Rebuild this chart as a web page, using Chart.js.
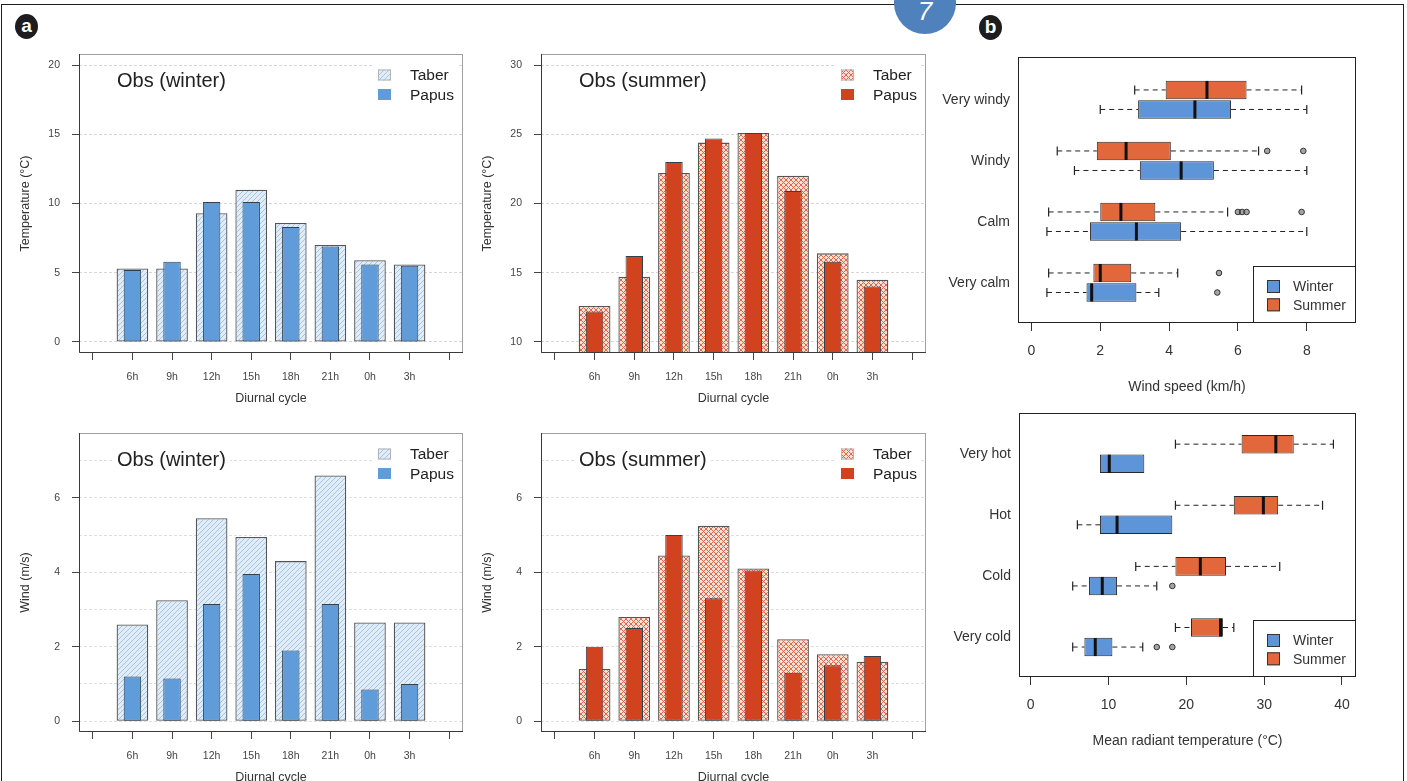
<!DOCTYPE html>
<html lang="en">
<head>
<meta charset="utf-8">
<title>Diurnal cycle and thermal comfort classes</title>
<script src="https://cdn.jsdelivr.net/npm/chart.js@4.4.1/dist/chart.umd.min.js"></script>
<style>
  html, body { margin: 0; padding: 0; background: #fff; }
  body { position: relative; width: 1407px; height: 781px; overflow: hidden;
         font-family: "Liberation Sans", Arial, sans-serif; }
  .frame { position: absolute; left: 1px; top: 4px; width: 1401px; height: 800px;
           border: 1.5px solid #1e1e1e; border-bottom: none; }
  .tab { position: absolute; left: 894px; top: -28px; width: 62px; height: 62px;
         border-radius: 50%; background: #4f81bd; }
  .tab span { position: absolute; left: 0; width: 100%; top: 26px; line-height: 26px;
              text-align: center; color: #fff; font-style: italic; font-size: 26px; }
  .badge { position: absolute; width: 23px; height: 25px; border-radius: 50%;
           background: #1d1d1f; color: #fff; text-align: center;
           font: bold 19px/24px "Liberation Sans Narrow", "Liberation Sans", Arial, sans-serif; }
  .pane { position: absolute; }
  .pane canvas { display: block; }
</style>
</head>
<body>
<div class="frame"></div>
<div class="tab"><span>7</span></div>
<div class="badge" style="left:15px;top:14px;">a</div>
<div class="badge" style="left:979px;top:15px;">b</div>

<script>
// ---- diurnal cycle (a) ----
const hours = ['6h', '9h', '12h', '15h', '18h', '21h', '0h', '3h'];
const hourTicks = [0, 1, 2, 3, 4, 5, 6, 7, 8, 9];

const tempWinterTaber = [5.3, 5.3, 9.3, 11.0, 8.6, 7.0, 5.9, 5.6];
const tempWinterPapus = [5.2, 5.8, 10.1, 10.1, 8.3, 6.9, 5.6, 5.5];
const tempSummerTaber = [12.6, 14.7, 22.2, 24.4, 25.1, 22.0, 16.4, 14.5];
const tempSummerPapus = [12.2, 16.2, 23.0, 24.7, 25.1, 20.9, 15.8, 14.0];
const windWinterTaber = [2.6, 3.25, 5.45, 4.95, 4.3, 6.6, 2.65, 2.65];
const windWinterPapus = [1.2, 1.15, 3.15, 3.95, 1.9, 3.15, 0.85, 1.0];
const windSummerTaber = [1.4, 2.8, 4.45, 5.25, 4.1, 2.2, 1.8, 1.6];
const windSummerPapus = [2.0, 2.5, 5.0, 3.3, 4.05, 1.3, 1.5, 1.75];

const tempWinterTicks = [0, 5, 10, 15, 20];
const tempSummerTicks = [10, 15, 20, 25, 30];
const windTicks = [0, 1, 2, 3, 4, 5, 6, 7];

// ---- comfort classes (b): [lower whisker, Q1, median, Q3, upper whisker] ----
const windClasses = ['Very windy', 'Windy', 'Calm', 'Very calm'];
const windSpeedSummer = [[3.0, 3.9, 5.1, 6.25, 7.85], [0.75, 1.9, 2.75, 4.05, 6.6],
                         [0.5, 2.0, 2.6, 3.6, 5.7], [0.5, 1.8, 2.0, 2.9, 4.25]];
const windSpeedWinter = [[2.0, 3.1, 4.75, 5.8, 8.0], [1.25, 3.15, 4.35, 5.3, 8.0],
                         [0.45, 1.7, 3.05, 4.35, 8.0], [0.45, 1.6, 1.75, 3.05, 3.7]];
const windSpeedSummerOut = [[], [6.85, 7.9], [6.0, 6.12, 6.25, 7.85], [5.45]];
const windSpeedWinterOut = [[], [], [], [5.4]];
const windSpeedTicks = [0, 2, 4, 6, 8];

const mrtClasses = ['Very hot', 'Hot', 'Cold', 'Very cold'];
const mrtSummer = [[18.6, 27.1, 31.5, 33.8, 38.9], [18.6, 26.1, 29.9, 31.8, 37.5],
                   [13.5, 18.6, 21.8, 25.1, 32.0], [18.6, 20.6, 24.4, 24.7, 26.1]];
const mrtWinter = [[8.9, 8.9, 10.1, 14.6, 14.6], [6.0, 8.9, 11.1, 18.2, 18.2],
                   [5.4, 7.5, 9.2, 11.1, 16.2], [5.4, 6.9, 8.3, 10.5, 14.4]];
const mrtSummerOut = [[], [], [], []];
const mrtWinterOut = [[], [], [18.2], [16.2, 18.2]];
const mrtTicks = [0, 10, 20, 30, 40];
const classTicks = [0, 1, 2, 3];

// ---- styling ----
const FONT = '"Liberation Sans", Arial, sans-serif';
Chart.defaults.font.family = FONT;
Chart.defaults.color = '#333';

const papusBlue = '#5f9cd9';
const papusRed = '#d1421f';
const boxBlue = '#5d95d8';
const boxOrange = '#e2673a';

function hatch(bg, fg, cross) {
  const c = document.createElement('canvas');
  c.width = c.height = 5;
  const g = c.getContext('2d');
  g.fillStyle = bg; g.fillRect(0, 0, 5, 5);
  g.strokeStyle = fg; g.lineWidth = 1;
  g.beginPath();
  g.moveTo(-1, 6); g.lineTo(6, -1);
  g.moveTo(-1, 1); g.lineTo(1, -1);
  g.moveTo(4, 6); g.lineTo(6, 4);
  if (cross) {
    g.moveTo(-1, -1); g.lineTo(6, 6);
    g.moveTo(-1, 4); g.lineTo(1, 6);
    g.moveTo(4, -1); g.lineTo(6, 1);
  }
  g.stroke();
  return g.createPattern(c, 'repeat');
}
const winterHatch = hatch('#e0ecf8', '#a6c5e4', false);
const summerHatch = hatch('#fbe1d6', '#e0684a', true);

function makeCanvas(left, top, width, height) {
  const d = document.createElement('div');
  d.className = 'pane';
  d.style.left = left + 'px';
  d.style.top = top + 'px';
  const c = document.createElement('canvas');
  c.width = width; c.height = height;
  c.style.width = width + 'px'; c.style.height = height + 'px';
  d.appendChild(c);
  document.body.appendChild(d);
  return c;
}

// Box, heading and legend for the diurnal bar panels
const barDecor = {
  id: 'barDecor',
  afterDatasetsDraw(chart, args, o) {
    const { ctx, chartArea: a } = chart;
    ctx.save();
    ctx.lineWidth = 1;
    ctx.strokeStyle = '#a0a0a0';
    ctx.strokeRect(a.left + 0.5, a.top + 0.5, a.width - 1, a.height - 1);
    ctx.strokeStyle = '#3a3a3a';
    ctx.beginPath();
    ctx.moveTo(a.left + 0.5, a.top);
    ctx.lineTo(a.left + 0.5, a.bottom - 0.5);
    ctx.lineTo(a.right, a.bottom - 0.5);
    ctx.stroke();

    ctx.font = '20px ' + FONT;
    ctx.textBaseline = 'middle';
    const tw = ctx.measureText(o.heading).width;
    ctx.fillStyle = '#fff';
    ctx.fillRect(a.left + 34, a.top + 15, tw + 8, 24);
    ctx.fillStyle = '#222';
    ctx.fillText(o.heading, a.left + 38, a.top + 27);

    ctx.fillStyle = '#fff';
    ctx.fillRect(a.right - 90, a.top + 9, 84, 42);
    ctx.font = '15.5px ' + FONT;
    const rows = [chart.data.datasets[1], chart.data.datasets[0]];
    rows.forEach((ds, k) => {
      const cy = a.top + 21 + k * 19.5;
      ctx.fillStyle = ds.backgroundColor;
      ctx.fillRect(a.right - 85, cy - 5.5, 13, 11);
      ctx.strokeStyle = k === 0 ? '#b4b4b4' : ds.backgroundColor;
      ctx.strokeRect(a.right - 84.5, cy - 5, 12, 10);
      ctx.fillStyle = '#222';
      ctx.fillText(ds.label, a.right - 53, cy + 1);
    });
    ctx.restore();
  }
};

function barPanel(box, cfg) {
  const YW = 70, PT = 24, PR = 14, XH = 70;
  const canvas = makeCanvas(box.l - YW, box.t - PT, box.r - box.l + YW + PR, box.b - box.t + PT + XH);
  const evenOnly = cfg.evenLabels;
  return new Chart(canvas, {
    type: 'bar',
    data: {
      datasets: [
        { label: 'Papus', data: cfg.papus.map((v, i) => ({ x: i + 1, y: v })),
          backgroundColor: cfg.solid, borderColor: '#34404e', borderWidth: 1,
          borderSkipped: false, grouped: false, categoryPercentage: 1, barPercentage: 0.44, order: 1 },
        { label: 'Taber', data: cfg.taber.map((v, i) => ({ x: i + 1, y: v })),
          backgroundColor: cfg.pattern, borderColor: '#555', borderWidth: 1.3,
          borderSkipped: false, grouped: false, categoryPercentage: 1, barPercentage: 0.8, order: 2 }
      ]
    },
    options: {
      responsive: false, animation: false, devicePixelRatio: 1, events: [],
      layout: { padding: { top: PT, right: PR, left: 0, bottom: 0 } },
      plugins: { legend: { display: false }, tooltip: { enabled: false },
                 barDecor: { heading: cfg.heading } },
      scales: {
        x: {
          type: 'linear', min: -0.35, max: 9.35, bounds: 'data', offset: false,
          afterBuildTicks: s => { s.ticks = hourTicks.map(v => ({ value: v })); },
          afterFit: s => { s.height = XH; },
          ticks: { autoSkip: false, maxRotation: 0, padding: 10.5, color: '#444',
                   font: { size: 10.5 }, callback: v => hours[v - 1] ?? '' },
          grid: { drawOnChartArea: false, offset: false, tickLength: 7, tickColor: '#444', tickBorderDash: [] },
          border: { display: false },
          title: { display: true, text: 'Diurnal cycle', color: '#333', font: { size: 12.5 },
                   padding: { top: 0, bottom: 17 } }
        },
        y: {
          type: 'linear', min: cfg.yMin, max: cfg.yMax, bounds: 'data', offset: false,
          afterBuildTicks: s => { s.ticks = cfg.yTicks.map(v => ({ value: v })); },
          afterFit: s => { s.width = YW; },
          ticks: { padding: 12, color: '#444', font: { size: 10.5 },
                   callback: v => (evenOnly && v % 2 ? '' : String(v)) },
          grid: { color: evenOnly ? '#dedede' : '#d6d6d6', lineWidth: 1, tickLength: 7, tickBorderDash: [],
                  tickColor: c => (evenOnly && c.tick && c.tick.value % 2 ? 'rgba(0,0,0,0)' : '#444') },
          border: { display: false, dash: [3, 2] },
          title: { display: true, text: cfg.yTitle, color: '#333', font: { size: 12.5 },
                   padding: { top: 9, bottom: 0 } }
        }
      }
    },
    plugins: [barDecor]
  });
}

barPanel({ l: 79, t: 54, r: 463, b: 353 }, {
  heading: 'Obs (winter)', taber: tempWinterTaber, papus: tempWinterPapus,
  solid: papusBlue, pattern: winterHatch, yMin: -0.8, yMax: 20.8, yTicks: tempWinterTicks,
  yTitle: 'Temperature (°C)'
});
barPanel({ l: 541, t: 54, r: 926, b: 353 }, {
  heading: 'Obs (summer)', taber: tempSummerTaber, papus: tempSummerPapus,
  solid: papusRed, pattern: summerHatch, yMin: 9.2, yMax: 30.8, yTicks: tempSummerTicks,
  yTitle: 'Temperature (°C)'
});
barPanel({ l: 79, t: 433, r: 463, b: 732 }, {
  heading: 'Obs (winter)', taber: windWinterTaber, papus: windWinterPapus,
  solid: papusBlue, pattern: winterHatch, yMin: -0.29, yMax: 7.74, yTicks: windTicks,
  yTitle: 'Wind (m/s)', evenLabels: true
});
barPanel({ l: 541, t: 433, r: 926, b: 732 }, {
  heading: 'Obs (summer)', taber: windSummerTaber, papus: windSummerPapus,
  solid: papusRed, pattern: summerHatch, yMin: -0.29, yMax: 7.74, yTicks: windTicks,
  yTitle: 'Wind (m/s)', evenLabels: true
});

// Frame and boxed legend for the class box plots
const boxDecor = {
  id: 'boxDecor',
  afterDatasetsDraw(chart) {
    const { ctx, chartArea: a } = chart;
    ctx.save();
    ctx.lineWidth = 1;
    ctx.strokeStyle = '#222';
    ctx.strokeRect(a.left + 0.5, a.top + 0.5, a.width - 1, a.height - 1);
    const lw = 103, lh = 57;
    const lx = a.right - lw, ly = a.bottom - lh;
    ctx.fillStyle = '#fff';
    ctx.fillRect(lx, ly, lw, lh);
    ctx.strokeRect(lx + 0.5, ly + 0.5, lw - 1, lh - 1);
    ctx.font = '14px ' + FONT;
    ctx.textBaseline = 'middle';
    const boxes = chart.data.datasets.filter(d => d.type === 'bar');
    ['Winter', 'Summer'].forEach((name, k) => {
      const ds = boxes.find(d => d.label === name);
      const cy = ly + 20.5 + k * 18.3;
      ctx.fillStyle = ds.backgroundColor;
      ctx.fillRect(lx + 14, cy - 6.5, 13, 13);
      ctx.strokeStyle = '#333';
      ctx.strokeRect(lx + 14.5, cy - 6, 12, 12);
      ctx.fillStyle = '#333';
      ctx.fillText(name, lx + 40, cy + 1);
    });
    ctx.restore();
  }
};

function boxPanel(box, cfg) {
  const YW = 100, PT = 24, PR = 24, XH = 80;
  const canvas = makeCanvas(box.l - YW, box.t - PT, box.r - box.l + YW + PR, box.b - box.t + PT + XH);
  const shift = 0.16;
  const seasons = [
    { name: 'Summer', stats: cfg.summer, out: cfg.summerOut, color: boxOrange, dy: -shift },
    { name: 'Winter', stats: cfg.winter, out: cfg.winterOut, color: boxBlue, dy: shift }
  ];
  const datasets = [];
  seasons.forEach(s => {
    const pos = i => i + s.dy;
    datasets.push({
      type: 'bar', label: s.name, indexAxis: 'y',
      data: s.stats.map((b, i) => ({ x: [b[1], b[3]], y: pos(i) })),
      backgroundColor: s.color, borderColor: '#2a2a2a', borderWidth: 1, borderSkipped: false,
      grouped: false, categoryPercentage: 1, barPercentage: 0.95, order: 3
    });
    const whiskers = [];
    const caps = [];
    s.stats.forEach((b, i) => {
      const y = pos(i);
      if (b[0] < b[1]) { whiskers.push({ x: b[0], y }, { x: b[1], y }, { x: null, y: null }); caps.push({ x: b[0], y }); }
      if (b[4] > b[3]) { whiskers.push({ x: b[3], y }, { x: b[4], y }, { x: null, y: null }); caps.push({ x: b[4], y }); }
    });
    datasets.push({
      type: 'line', label: s.name + ' whiskers', data: whiskers,
      borderColor: '#222', borderWidth: 1, borderDash: [5, 4], pointRadius: 0,
      spanGaps: false, fill: false, order: 4
    });
    datasets.push({
      type: 'scatter', label: s.name + ' caps', data: caps,
      pointStyle: 'line', pointRotation: 90, pointRadius: 4.5,
      pointBorderColor: '#222', pointBorderWidth: 1.2, order: 2
    });
    datasets.push({
      type: 'scatter', label: s.name + ' outliers',
      data: s.out.flatMap((arr, i) => arr.map(v => ({ x: v, y: pos(i) }))),
      pointStyle: 'circle', pointRadius: 2.8, pointBackgroundColor: 'rgba(90,90,90,0.55)',
      pointBorderColor: '#333', pointBorderWidth: 1, order: 1
    });
    datasets.push({
      type: 'scatter', label: s.name + ' median',
      data: s.stats.map((b, i) => ({ x: b[2], y: pos(i) })),
      pointStyle: 'line', pointRotation: 90, pointRadius: 9,
      pointBorderColor: '#111', pointBorderWidth: 3, order: 0
    });
  });

  return new Chart(canvas, {
    type: 'bar',
    data: { datasets },
    options: {
      responsive: false, animation: false, devicePixelRatio: 1, events: [],
      layout: { padding: { top: PT, right: PR, left: 0, bottom: 0 } },
      plugins: { legend: { display: false }, tooltip: { enabled: false } },
      scales: {
        x: {
          type: 'linear', min: cfg.xMin, max: cfg.xMax, bounds: 'data', offset: false,
          afterBuildTicks: s => { s.ticks = cfg.xTicks.map(v => ({ value: v })); },
          afterFit: s => { s.height = XH; },
          ticks: { autoSkip: false, maxRotation: 0, padding: 12, color: '#333', font: { size: 14 } },
          grid: { drawOnChartArea: false, offset: false, tickLength: 8, tickColor: '#333', tickBorderDash: [] },
          border: { display: false },
          title: { display: true, text: cfg.xTitle, color: '#333', font: { size: 14 },
                   padding: { top: 0, bottom: 7 } }
        },
        y: {
          type: 'linear', reverse: true, min: cfg.yMin, max: cfg.yMax, bounds: 'data', offset: false,
          afterBuildTicks: s => { s.ticks = classTicks.map(v => ({ value: v })); },
          afterFit: s => { s.width = YW; },
          ticks: { padding: 8, color: '#333', font: { size: 14 }, callback: v => cfg.classes[v] ?? '' },
          grid: { display: false, drawTicks: false, offset: false },
          border: { display: false }
        }
      }
    },
    plugins: [boxDecor]
  });
}

boxPanel({ l: 1018, t: 57, r: 1356, b: 323 }, {
  summer: windSpeedSummer, winter: windSpeedWinter,
  summerOut: windSpeedSummerOut, winterOut: windSpeedWinterOut,
  classes: windClasses, xTicks: windSpeedTicks, xMin: -0.39, xMax: 9.43,
  yMin: -0.7, yMax: 3.66, xTitle: 'Wind speed (km/h)'
});
boxPanel({ l: 1019, t: 413, r: 1356, b: 677 }, {
  summer: mrtSummer, winter: mrtWinter,
  summerOut: mrtSummerOut, winterOut: mrtWinterOut,
  classes: mrtClasses, xTicks: mrtTicks, xMin: -1.5, xMax: 41.8,
  yMin: -0.67, yMax: 3.65, xTitle: 'Mean radiant temperature (°C)'
});
</script>
</body>
</html>
